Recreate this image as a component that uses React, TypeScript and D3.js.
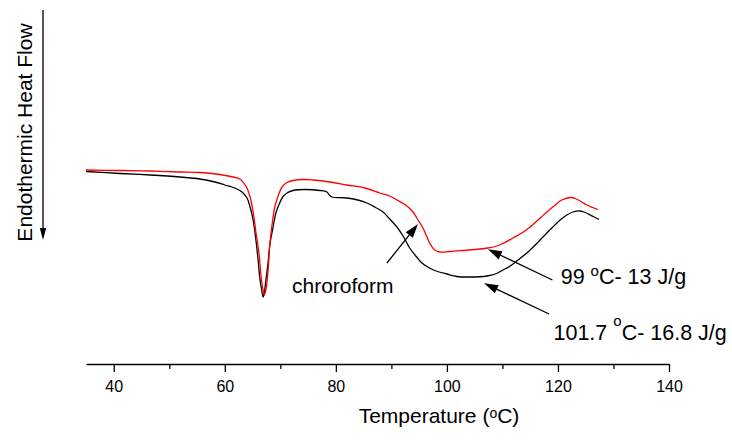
import React, { useEffect, useRef } from "react";
import * as d3 from "d3";

const WIDTH = 732;
const HEIGHT = 445;
const FONT = "'Liberation Sans', Arial, Helvetica, sans-serif";

// DSC scan of the chloroform sample (red): temperature (°C) and heat flow (arb. units)
const chloroformTemp = [
  35.0, 41.1, 46.5, 51.9, 55.5, 59.1, 61.5, 62.7, 63.8, 64.5, 65.1, 65.6, 66.2, 66.5, 66.9, 67.1,
  67.4, 67.8, 68.1, 68.5, 69.0, 69.6, 70.3, 71.2, 72.3, 74.1, 75.9, 78.9, 82.0, 85.2, 87.9, 89.7,
  91.0, 92.8, 93.9, 94.8, 95.7, 96.4, 97.1, 97.8, 98.7, 100.5, 102.9, 105.1, 107.4, 108.7, 109.9,
  111.9, 113.5, 115.0, 116.8, 118.0, 119.5, 120.7, 122.2, 123.1, 124.0, 125.2, 126.3, 127.2,
];
const chloroformFlow = [
  19.4, 19.35, 19.3, 19.2, 19.15, 18.95, 18.7, 18.5, 17.8, 16.8, 15.2, 13.2, 10.9, 8.9, 7.4, 6.9,
  7.4, 9.4, 11.9, 13.9, 15.7, 16.8, 17.7, 18.15, 18.35, 18.45, 18.4, 18.2, 17.9, 17.6, 17.1, 16.8,
  16.4, 15.8, 15.2, 14.4, 13.6, 12.7, 11.9, 11.4, 11.2, 11.25, 11.35, 11.45, 11.6, 11.75, 12.0,
  12.6, 13.1, 13.7, 14.6, 15.2, 15.9, 16.4, 16.65, 16.55, 16.3, 15.9, 15.65, 15.45,
];

// DSC scan of the second sample (black)
const sampleTemp = [
  35.0, 41.1, 46.5, 51.9, 55.5, 58.2, 60.0, 61.8, 63.1, 64.0, 64.5, 65.1, 65.6, 66.0, 66.3, 66.7,
  66.9, 67.1, 67.4, 67.8, 68.1, 68.7, 69.2, 69.8, 70.5, 71.2, 72.3, 74.4, 77.1, 78.4, 78.8, 79.3,
  82.0, 84.3, 85.6, 87.0, 88.5, 89.7, 91.0, 92.1, 93.3, 94.4, 95.3, 96.4, 97.8, 100.0, 101.8,
  104.2, 107.2, 108.7, 110.1, 111.4, 112.8, 114.4, 115.9, 117.3, 118.9, 120.4, 121.6, 122.7,
  124.0, 124.9, 125.8, 126.7, 127.4,
];
const sampleFlow = [
  19.25, 19.05, 18.9, 18.7, 18.5, 18.2, 17.9, 17.6, 17.2, 16.6, 15.8, 14.4, 12.4, 10.4, 8.6, 7.2,
  6.7, 7.1, 8.4, 10.2, 11.9, 13.7, 15.1, 16.0, 16.75, 17.1, 17.35, 17.45, 17.35, 17.2, 16.9, 16.7,
  16.6, 16.35, 16.1, 15.7, 15.2, 14.5, 13.7, 12.8, 11.6, 10.8, 10.2, 9.75, 9.35, 9.0, 8.75,
  8.7, 8.8, 9.0, 9.4, 9.8, 10.4, 11.1, 11.9, 12.7, 13.6, 14.4, 14.9, 15.2,
  15.3, 15.15, 14.9, 14.65, 14.45,
];

const majorTicks = [40, 60, 80, 100, 120, 140];
const minorTicks = [50, 70, 90, 110, 130];

const xTitle = ["Temperature (", "o", "C)"];
const yTitle = "Endothermic Heat Flow";

// Callouts: arrow tail/tip and text anchor in data units (°C, heat flow)
const annotations = [
  { parts: ["chroroform", "", ""], text: [72.1, 7.1], tail: [89.2, 10.1], tip: [94.8, 14.0], supShift: 0 },
  { parts: ["99 ", "o", "C- 13 J/g"], text: [120.5, 8.0], tail: [119.0, 8.4], tip: [107.4, 11.47], supShift: 8 },
  { parts: ["101.7 ", "o", "C- 16.8 J/g"], text: [119.2, 2.4], tail: [118.4, 5.0], tip: [106.7, 8.07], supShift: 14 },
];

function arrowHead(tipX: number, tipY: number, fromX: number, fromY: number, len = 14, half = 4.5) {
  const dx = tipX - fromX;
  const dy = tipY - fromY;
  const d = Math.hypot(dx, dy) || 1;
  const ux = dx / d;
  const uy = dy / d;
  const bx = tipX - ux * len;
  const by = tipY - uy * len;
  return `M${tipX},${tipY}L${bx - uy * half},${by + ux * half}L${bx + uy * half},${by - ux * half}Z`;
}

export default function App() {
  const majorRef = useRef<SVGGElement>(null);
  const minorRef = useRef<SVGGElement>(null);

  const x = d3.scaleLinear().domain([35, 140]).range([86, 669]);
  const y = d3.scaleLinear().domain([0, 30]).range([364, 64]);

  useEffect(() => {
    const major = d3.select(majorRef.current!);
    major.selectAll("*").remove();
    major.call(
      d3
        .axisBottom(x)
        .tickValues(majorTicks)
        .tickSize(8)
        .tickSizeOuter(0)
        .tickPadding(9)
        .tickFormat(d3.format("d"))
    );
    major.attr("font-size", 16).attr("font-family", FONT);
    major.select(".domain").attr("stroke", "#000").attr("stroke-width", 1.5);
    major.selectAll(".tick line").attr("stroke", "#000").attr("stroke-width", 1.3);
    major.selectAll(".tick text").attr("fill", "#000");

    const minor = d3.select(minorRef.current!);
    minor.selectAll("*").remove();
    minor.call(d3.axisBottom(x).tickValues(minorTicks).tickSize(5).tickSizeOuter(0).tickFormat(() => ""));
    minor.select(".domain").remove();
    minor.selectAll(".tick line").attr("stroke", "#000").attr("stroke-width", 1.3);
  }, []);

  const lineFor = (temps: number[], flows: number[]) =>
    d3
      .line<number>()
      .x((_, i) => x(temps[i]))
      .y((_, i) => y(flows[i]))
      .curve(d3.curveCatmullRom.alpha(0.5))(temps.map((t) => t)) || "";

  return (
    <svg
      width={WIDTH}
      height={HEIGHT}
      style={{ position: "absolute", left: 0, top: 0, background: "#fff" }}
      fontFamily={FONT}
    >
      <rect width={WIDTH} height={HEIGHT} fill="#fff" />

      {/* y-axis title with downward arrow */}
      <text
        transform="translate(32,132.5) rotate(-90)"
        textAnchor="middle"
        fontSize={21}
        fill="#000"
      >
        {yTitle}
      </text>
      <line x1={43} y1={10} x2={43} y2={230} stroke="#000" strokeWidth={1.3} />
      <path d={arrowHead(43, 240, 43, 10, 12, 3.2)} fill="#000" />

      {/* curves */}
      <path d={lineFor(sampleTemp, sampleFlow)} fill="none" stroke="#000" strokeWidth={1.3} />
      <path d={lineFor(chloroformTemp, chloroformFlow)} fill="none" stroke="#ff0000" strokeWidth={1.3} />

      {/* x axis */}
      <g ref={minorRef} transform={`translate(0,${y(0)})`} />
      <g ref={majorRef} transform={`translate(0,${y(0)})`} />

      <text x={439} y={423} textAnchor="middle" fontSize={21} fill="#000">
        <tspan>{xTitle[0]}</tspan>
        <tspan fontSize={14} dy={-5.5}>
          {xTitle[1]}
        </tspan>
        <tspan dy={5.5}>{xTitle[2]}</tspan>
      </text>

      {/* callouts */}
      {annotations.map((a, i) => {
        const tx = x(a.tail[0]);
        const ty = y(a.tail[1]);
        const px = x(a.tip[0]);
        const py = y(a.tip[1]);
        const d = Math.hypot(px - tx, py - ty);
        const ex = px - ((px - tx) / d) * 12;
        const ey = py - ((py - ty) / d) * 12;
        return (
          <g key={i}>
            <line x1={tx} y1={ty} x2={ex} y2={ey} stroke="#000" strokeWidth={1.3} />
            <path d={arrowHead(px, py, tx, ty)} fill="#000" />
            <text x={x(a.text[0])} y={y(a.text[1])} fontSize={i === 0 ? 21 : 21.5} fill="#000">
              <tspan>{a.parts[0]}</tspan>
              {a.parts[1] ? (
                <>
                  <tspan fontSize={15} dy={-a.supShift}>
                    {a.parts[1]}
                  </tspan>
                  <tspan dy={a.supShift}>{a.parts[2]}</tspan>
                </>
              ) : null}
            </text>
          </g>
        );
      })}
    </svg>
  );
}
